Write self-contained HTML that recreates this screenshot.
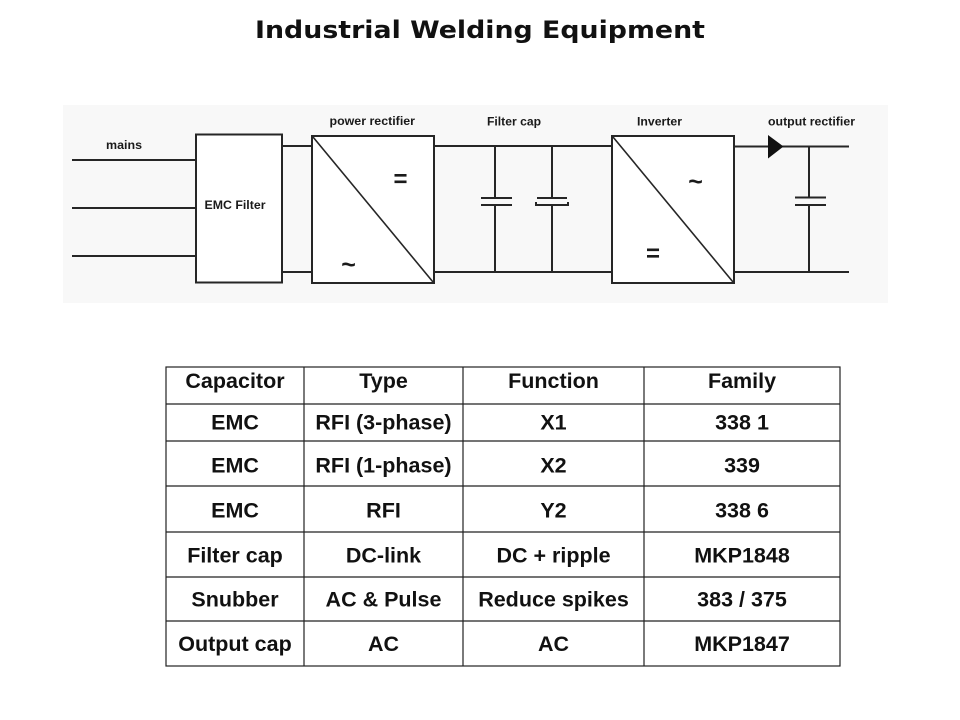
<!DOCTYPE html>
<html>
<head>
<meta charset="utf-8">
<style>
  html, body { margin: 0; padding: 0; background: #ffffff; }
  body { width: 960px; height: 720px; overflow: hidden; }
  svg { display: block; }
</style>
</head>
<body>
<svg width="960" height="720" viewBox="0 0 960 720" xmlns="http://www.w3.org/2000/svg">
  <rect x="0" y="0" width="960" height="720" fill="#ffffff"/>

  <!-- Title -->
  <text x="255" y="38" font-family="'DejaVu Sans', 'Liberation Sans', sans-serif" font-weight="bold" font-size="24" fill="#111" textLength="450" lengthAdjust="spacingAndGlyphs">Industrial Welding Equipment</text>

  <!-- Diagram background -->
  <rect x="63" y="105" width="825" height="198" fill="#f8f8f8"/>

  <g stroke="#262626" stroke-width="2" fill="none">
    <!-- mains lines -->
    <line x1="72" y1="160" x2="196" y2="160"/>
    <line x1="72" y1="208" x2="196" y2="208"/>
    <line x1="72" y1="256" x2="196" y2="256"/>
    <!-- EMC filter box -->
    <rect x="196" y="134.5" width="86" height="148" fill="#ffffff"/>
    <!-- EMC to rectifier -->
    <line x1="282" y1="146" x2="312" y2="146"/>
    <line x1="282" y1="272" x2="312" y2="272"/>
    <!-- power rectifier box -->
    <rect x="312" y="136" width="122" height="147" fill="#ffffff"/>
    <!-- rectifier to inverter -->
    <line x1="434" y1="146" x2="612" y2="146"/>
    <line x1="434" y1="272" x2="612" y2="272"/>
    <!-- cap 1 -->
    <line x1="495" y1="146" x2="495" y2="198"/>
    <line x1="495" y1="205" x2="495" y2="272"/>
    <line x1="481" y1="198" x2="512" y2="198"/>
    <line x1="481" y1="205" x2="512" y2="205"/>
    <!-- cap 2 (polarized) -->
    <line x1="552" y1="146" x2="552" y2="198"/>
    <line x1="552" y1="205" x2="552" y2="272"/>
    <line x1="537" y1="198" x2="567" y2="198"/>
    <polyline points="536,202 536,205 568,205 568,202"/>
    <!-- inverter box -->
    <rect x="612" y="136" width="122" height="147" fill="#ffffff"/>
    <!-- output lines -->
    <line x1="734" y1="146.5" x2="849" y2="146.5"/>
    <line x1="734" y1="272" x2="849" y2="272"/>
    <!-- output cap -->
    <line x1="809" y1="146.5" x2="809" y2="197.5"/>
    <line x1="809" y1="205" x2="809" y2="272"/>
    <line x1="795" y1="197.5" x2="826" y2="197.5"/>
    <line x1="795" y1="205" x2="826" y2="205"/>
  </g>
  <!-- diagonals -->
  <g stroke="#262626" stroke-width="1.6">
    <line x1="313" y1="137" x2="433" y2="282"/>
    <line x1="613" y1="137" x2="733" y2="282"/>
  </g>
  <!-- diode -->
  <polygon points="768,135 768,158.5 783.5,146.5" fill="#111"/>

  <!-- diagram labels -->
  <g font-family="'Liberation Sans', Arial, sans-serif" font-weight="bold" font-size="12" fill="#1a1a1a">
    <text x="106" y="149" textLength="36" lengthAdjust="spacingAndGlyphs">mains</text>
    <text x="204.5" y="209" textLength="61" lengthAdjust="spacingAndGlyphs">EMC Filter</text>
    <text x="329.5" y="125" textLength="85.5" lengthAdjust="spacingAndGlyphs">power rectifier</text>
    <text x="487" y="125.5" textLength="54" lengthAdjust="spacingAndGlyphs">Filter cap</text>
    <text x="637" y="125.5" textLength="45" lengthAdjust="spacingAndGlyphs">Inverter</text>
    <text x="768" y="125.5" textLength="87" lengthAdjust="spacingAndGlyphs">output rectifier</text>
  </g>
  <!-- symbols -->
  <g font-family="'Liberation Sans', Arial, sans-serif" font-weight="bold" fill="#1a1a1a" text-anchor="middle">
    <text x="400.5" y="187" font-size="24">=</text>
    <text x="348.5" y="273" font-size="25">~</text>
    <text x="695.5" y="190" font-size="25">~</text>
    <text x="653" y="261.5" font-size="24">=</text>
  </g>

  <!-- Table -->
  <g stroke="#222" stroke-width="1.2" fill="none">
    <rect x="166" y="367" width="674" height="299"/>
    <line x1="304" y1="367" x2="304" y2="666"/>
    <line x1="463" y1="367" x2="463" y2="666"/>
    <line x1="644" y1="367" x2="644" y2="666"/>
    <line x1="166" y1="404" x2="840" y2="404"/>
    <line x1="166" y1="441" x2="840" y2="441"/>
    <line x1="166" y1="486" x2="840" y2="486"/>
    <line x1="166" y1="532" x2="840" y2="532"/>
    <line x1="166" y1="577" x2="840" y2="577"/>
    <line x1="166" y1="621" x2="840" y2="621"/>
  </g>
  <g font-family="'Liberation Sans', Arial, sans-serif" font-weight="bold" font-size="21.5" fill="#111" text-anchor="middle">
    <text x="235" y="388">Capacitor</text>
    <text x="383.5" y="388">Type</text>
    <text x="553.5" y="388">Function</text>
    <text x="742" y="388">Family</text>

    <text x="235" y="429.5">EMC</text>
    <text x="383.5" y="429.5">RFI (3-phase)</text>
    <text x="553.5" y="429.5">X1</text>
    <text x="742" y="429.5">338 1</text>

    <text x="235" y="472.5">EMC</text>
    <text x="383.5" y="472.5">RFI (1-phase)</text>
    <text x="553.5" y="472.5">X2</text>
    <text x="742" y="472.5">339</text>

    <text x="235" y="517.5">EMC</text>
    <text x="383.5" y="517.5">RFI</text>
    <text x="553.5" y="517.5">Y2</text>
    <text x="742" y="517.5">338 6</text>

    <text x="235" y="562.5">Filter cap</text>
    <text x="383.5" y="562.5">DC-link</text>
    <text x="553.5" y="562.5">DC + ripple</text>
    <text x="742" y="562.5">MKP1848</text>

    <text x="235" y="606.5">Snubber</text>
    <text x="383.5" y="606.5">AC &amp; Pulse</text>
    <text x="553.5" y="606.5">Reduce spikes</text>
    <text x="742" y="606.5">383 / 375</text>

    <text x="235" y="651">Output cap</text>
    <text x="383.5" y="651">AC</text>
    <text x="553.5" y="651">AC</text>
    <text x="742" y="651">MKP1847</text>
  </g>
</svg>
</body>
</html>
